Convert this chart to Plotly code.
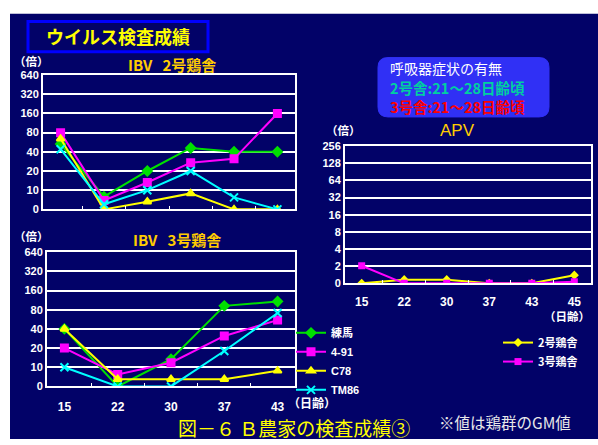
import plotly.graph_objects as go

W, H = 598, 445
NAVY = "#020268"
FONT = "Liberation Sans, Noto Sans CJK JP, sans-serif"
JFONT = "Noto Sans CJK JP, sans-serif"

# ---- data ----
days_ibv2 = ["15", "22", "30", "37", "43", "45"]
days_ibv3 = ["15", "22", "30", "37", "43"]
days_apv = ["15", "22", "30", "37", "43", "45"]
series_names = ["練馬", "4-91", "C78", "TM86"]
ibv2_values = {
    "練馬": [53, 7.9, 20, 46, 40, 40],
    "4-91": [80, 6.9, 13.2, 27, 31, 160],
    "C78": [64, 5, 6.6, 8.9, 5, 5],
    "TM86": [44, 6, 10, 20, 7.7, 5],
}
ibv3_values = {
    "練馬": [40, 5, 13.4, 92, 108],
    "4-91": [20, 7.7, 11.8, 31, 55],
    "C78": [40, 6.5, 6.5, 6.5, 8.8],
    "TM86": [10, 5, 5, 18, 71],
}
apv_names = ["2号鶏舎", "3号鶏舎"]
apv_values = {
    "2号鶏舎": [1, 1.16, 1.16, 1, 1, 1.39],
    "3号鶏舎": [2.03, 1, 1, 1, 1, 1.07],
}
ibv_tickvals = [5, 10, 20, 40, 80, 160, 320, 640]
ibv_ticktext = ["0", "10", "20", "40", "80", "160", "320", "640"]
apv_tickvals = [1, 2, 4, 8, 16, 32, 64, 128, 256]
apv_ticktext = ["0", "2", "4", "8", "16", "32", "64", "128", "256"]

styles = {
    "練馬": dict(color="#00e000", symbol="diamond"),
    "4-91": dict(color="#ff00ff", symbol="square"),
    "C78": dict(color="#ffff00", symbol="triangle-up"),
    "TM86": dict(color="#00ffff", symbol="x-thin-open"),
    "2号鶏舎": dict(color="#ffff00", symbol="diamond"),
    "3号鶏舎": dict(color="#ff00ff", symbol="square"),
}


def px_x(p):
    return p / W


def px_y(p):
    return 1 - p / H


fig = go.Figure()

for name in series_names:
    st = styles[name]
    msize = 8 if "x" in st["symbol"] else 7
    mk = dict(color=st["color"], symbol=st["symbol"], size=msize,
              line=dict(color=st["color"], width=2))
    fig.add_trace(go.Scatter(x=days_ibv2, y=ibv2_values[name], name=name, mode="lines+markers",
                             line=dict(color=st["color"], width=2), marker=mk,
                             xaxis="x", yaxis="y", showlegend=False))
    fig.add_trace(go.Scatter(x=days_ibv3, y=ibv3_values[name], name=name, mode="lines+markers",
                             line=dict(color=st["color"], width=2), marker=mk,
                             xaxis="x2", yaxis="y2", legend="legend"))

for name in apv_names:
    st = styles[name]
    fig.add_trace(go.Scatter(x=days_apv, y=apv_values[name], name=name, mode="lines+markers",
                             line=dict(color=st["color"], width=2),
                             marker=dict(color=st["color"], symbol=st["symbol"], size=7),
                             xaxis="x3", yaxis="y3", legend="legend2"))

ax_common = dict(showline=True, linecolor="white", linewidth=2, mirror=True,
                 showgrid=False, zeroline=False, fixedrange=True)
tickfont = dict(family=FONT, size=11, color="white", weight="bold")

fig.update_layout(
    width=W, height=H, margin=dict(l=0, r=0, t=0, b=0),
    paper_bgcolor="white", plot_bgcolor=NAVY,
    xaxis=dict(domain=[px_x(43), px_x(295)], anchor="y", type="category",
               showticklabels=False, ticks="inside", tickson="boundaries",
               ticklen=3, tickcolor="white", **ax_common),
    yaxis=dict(domain=[px_y(209), px_y(71)], anchor="x", type="log",
               range=[0.69897, 2.80618], tickvals=ibv_tickvals, ticktext=ibv_ticktext,
               tickfont=tickfont, ticks="", **{**ax_common, "showgrid": True},
               gridcolor="white", gridwidth=2),
    xaxis2=dict(domain=[px_x(47), px_x(295)], anchor="y2", type="category",
                ticks="inside", tickson="boundaries", ticklen=3, tickcolor="white",
                tickfont=dict(family=FONT, size=12, color="white", weight="bold"),
                ticklabelstandoff=8, **ax_common),
    yaxis2=dict(domain=[px_y(391), px_y(253)], anchor="x2", type="log",
                range=[0.69897, 2.80618], tickvals=ibv_tickvals, ticktext=ibv_ticktext,
                tickfont=tickfont, ticks="", **{**ax_common, "showgrid": True},
                gridcolor="white", gridwidth=2),
    xaxis3=dict(domain=[px_x(345), px_x(591)], anchor="y3", type="category",
                ticks="inside", tickson="boundaries", ticklen=3, tickcolor="white",
                tickfont=dict(family=FONT, size=12, color="white", weight="bold"),
                ticklabelstandoff=6, **ax_common),
    yaxis3=dict(domain=[px_y(285), px_y(144)], anchor="x3", type="log",
                range=[0, 2.40824], tickvals=apv_tickvals, ticktext=apv_ticktext,
                tickfont=tickfont, ticks="", **{**ax_common, "showgrid": True},
                gridcolor="white", gridwidth=2),
    legend=dict(x=px_x(291), y=px_y(321), xanchor="left", yanchor="top",
                bgcolor="rgba(0,0,0,0)", itemwidth=30, tracegroupgap=0,
                font=dict(family=FONT, size=11, color="white", weight="bold")),
    legend2=dict(x=px_x(498), y=px_y(331), xanchor="left", yanchor="top",
                 bgcolor="rgba(0,0,0,0)", itemwidth=30,
                 font=dict(family=JFONT, size=11, color="white", weight="bold")),
)

shapes = [
    dict(type="rect", xref="paper", yref="paper", x0=px_x(10), x1=1, y0=0, y1=px_y(8),
         fillcolor=NAVY, line=dict(width=0), layer="below"),
    dict(type="rect", xref="paper", yref="paper", x0=px_x(28), x1=px_x(208),
         y0=px_y(47), y1=px_y(16), fillcolor=NAVY, line=dict(color="#0000ff", width=3)),
]
# rounded info box
x0, x1, y0, y1, r = px_x(378), px_x(549), px_y(114), px_y(53), 10
rx, ry = r / W, r / H
path = (f"M {x0+rx},{y0} L {x1-rx},{y0} Q {x1},{y0} {x1},{y0+ry} L {x1},{y1-ry} "
        f"Q {x1},{y1} {x1-rx},{y1} L {x0+rx},{y1} Q {x0},{y1} {x0},{y1-ry} "
        f"L {x0},{y0+ry} Q {x0},{y0} {x0+rx},{y0} Z")
shapes.append(dict(type="path", xref="paper", yref="paper", path=path,
                   fillcolor="#3030f5", line=dict(color="#3030f5", width=1)))
fig.update_layout(shapes=shapes)


def ann(text, x, y, size, color, bold=False, family=JFONT, xanchor="center", align="center"):
    fig.add_annotation(text=text, x=px_x(x), y=px_y(y), xref="paper", yref="paper",
                       showarrow=False, xanchor=xanchor, yanchor="middle", align=align,
                       font=dict(family=family, size=size, color=color,
                                 weight="bold" if bold else "normal"))


ann("ウイルス検査成績", 118, 31, 18, "#ffff00", bold=True)
ann("（倍）", 31, 57, 11.5, "white", bold=True)
ann("（倍）", 31, 236, 11.5, "white", bold=True)
ann("（倍）", 344, 127, 11.5, "white", bold=True)
ann("IBV\u00a0\u00a0 2号鶏舎", 172, 60, 15, "#ffcc00", bold=True)
ann("IBV\u00a0\u00a0 3号鶏舎", 177, 240, 15, "#ffcc00", bold=True)
ann("APV", 457, 128, 17, "#ffcc00", family=FONT)
ann("<span style='font-size:14px'>呼吸器症状の有無</span><br>"
    "<b><span style='color:#00d0a0;font-size:14.5px'>2号舎:21～28日齢頃</span></b><br>"
    "<b><span style='color:#ff0000;font-size:14.5px'>3号舎:21～28日齢頃</span></b>",
    388, 84, 15, "white", xanchor="left", align="left")
ann("（日齢）", 312, 407, 12, "white", bold=True)
ann("（日齢）", 567, 319, 11.5, "white", bold=True)
ann("図－６ Ｂ農家の検査成績③", 294, 433, 19, "#ffff00")
ann("※値は鶏群のGM値", 505, 428, 15.5, "#e8e8e8")

fig.write_html("out.html")
